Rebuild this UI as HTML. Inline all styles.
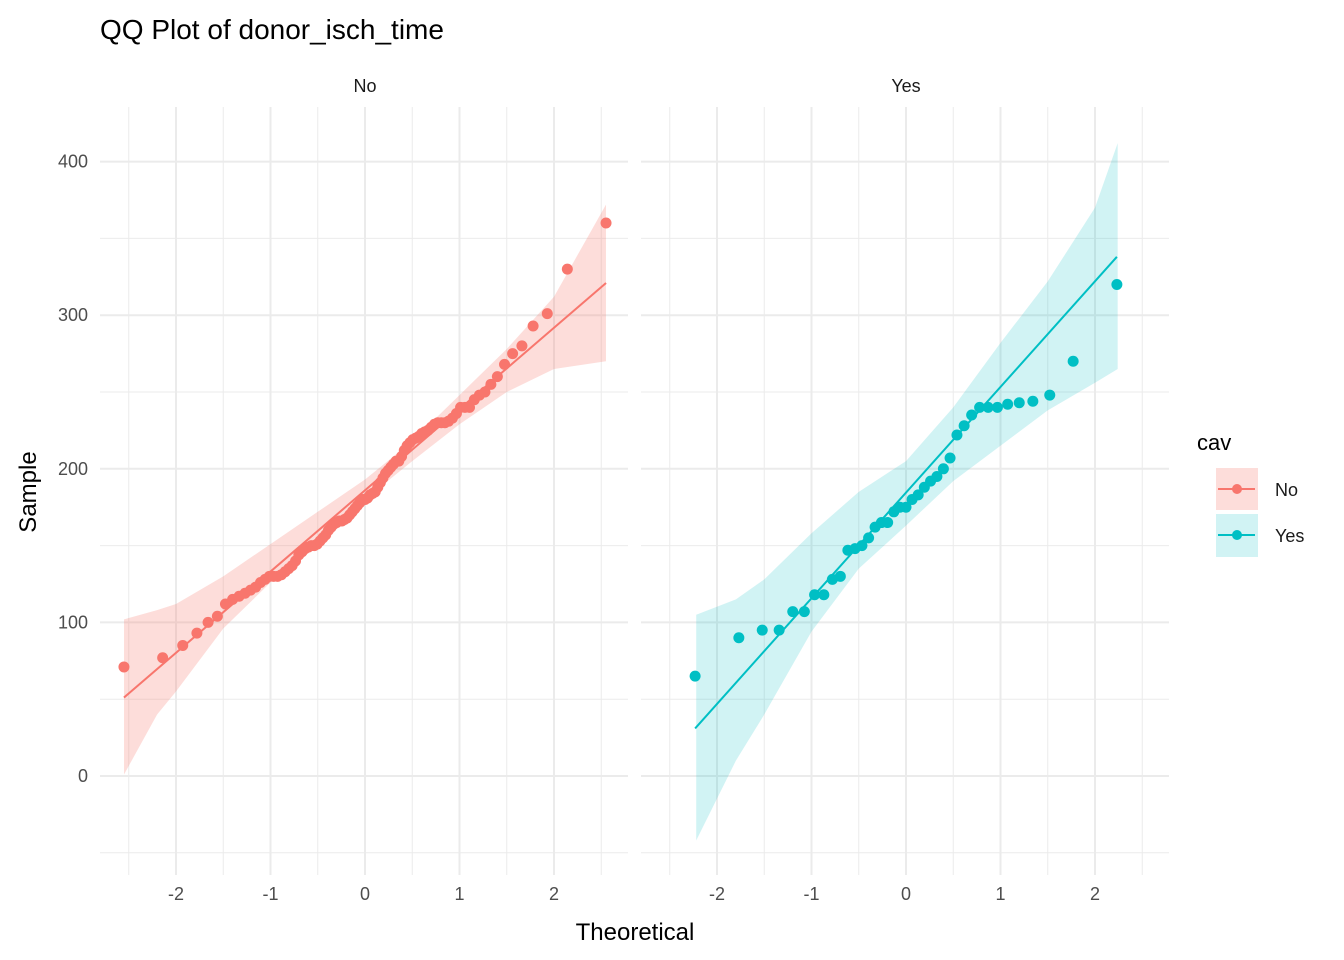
<!DOCTYPE html>
<html><head><meta charset="utf-8"><style>
html,body{margin:0;padding:0;background:#fff;}
svg{display:block;font-family:"Liberation Sans",Arial,sans-serif;}
</style></head><body>
<svg id="c" width="1344" height="960" viewBox="0 0 1344 960" xmlns="http://www.w3.org/2000/svg">
<text x="100" y="39" font-size="28" fill="#000">QQ Plot of donor_isch_time</text>
<text x="365" y="92" font-size="18" fill="#1a1a1a" text-anchor="middle">No</text>
<text x="906" y="92" font-size="18" fill="#1a1a1a" text-anchor="middle">Yes</text>
<text x="635" y="940" font-size="24" fill="#000" text-anchor="middle">Theoretical</text>
<text x="36" y="492" font-size="24" fill="#000" text-anchor="middle" transform="rotate(-90 36 492)">Sample</text>
<g>
<text x="1197" y="450" font-size="22" fill="#000">cav</text>
<g>
<rect x="1216" y="468" width="42" height="42" fill="#F8766D" fill-opacity="0.25"/>
<line x1="1218" y1="489" x2="1255" y2="489" stroke="#F8766D" stroke-width="2"/>
<circle cx="1237" cy="489" r="5" fill="#F8766D"/>
<text x="1275" y="496" font-size="18" fill="#1a1a1a">No</text></g>
<g>
<rect x="1216" y="514" width="42" height="43" fill="#00BFC4" fill-opacity="0.18"/>
<line x1="1218" y1="535" x2="1255" y2="535" stroke="#00BFC4" stroke-width="2"/>
<circle cx="1237" cy="535" r="5" fill="#00BFC4"/>
<text x="1275" y="542" font-size="18" fill="#1a1a1a">Yes</text></g>
</g>
</svg>
<script>
const yTicks=[0,100,200,300,400];
const yMinor=[-50,50,150,250,350];
const xTicks=[-2,-1,0,1,2];
const xMinor=[-2.5,-1.5,-0.5,0.5,1.5,2.5];
const noValues=[71,77,85,93,100,104,112,115,117,119,121,123,126,128,130,130,130,131,133,135,137,140,144,146,148,149,150,150,151,153,155,157,160,162,164,165,166,166,167,168,170,172,174,176,178,180,180,181,183,184,185,188,191,194,197,199,201,203,205,205,208,212,215,217,219,220,221,223,224,225,227,229,230,230,230,231,233,236,240,240,240,245,248,250,255,260,268,275,280,293,301,330,360];
const yesValues=[65,90,95,95,107,107,118,118,128,130,147,148,150,155,162,165,165,172,175,175,180,183,188,192,195,200,207,222,228,235,240,240,240,242,243,244,248,270,320];
const noLine=[186,52.9];
const yesLine=[184.5,68.8];
const noBandX=[-2.55,-2.2,-2,-1.5,-1,-0.5,0,0.5,1,1.5,2,2.55];
const noBandLo=[1,40,55,96,126,155,180,205,229,250,265,270];
const noBandHi=[102,108,112,130,151,172,193,218,248,278,312,372];
const yesBandX=[-2.22,-1.8,-1.5,-1,-0.5,0,0.5,1,1.5,2,2.24];
const yesBandLo=[-42,10,40,94,135,163,192,215,238,256,265];
const yesBandHi=[105,115,128,158,185,205,240,282,322,370,412];
const NS="http://www.w3.org/2000/svg",svg=document.getElementById('c');
const yS=v=>776-v*1.536;
function qnorm(p){const a=[-39.6968302866538,220.946098424521,-275.928510446969,138.357751867269,-30.6647980661472,2.50662827745924],b=[-54.4760987982241,161.585836858041,-155.698979859887,66.8013118877197,-13.2806815528857],c=[-0.00778489400243029,-0.322396458041136,-2.40075827716184,-2.54973253934373,4.37466414146497,2.93816398269878],d=[0.00778469570904146,0.32246712907004,2.445134137143,3.75440866190742];let q,r;if(p<0.02425){q=Math.sqrt(-2*Math.log(p));return(((((c[0]*q+c[1])*q+c[2])*q+c[3])*q+c[4])*q+c[5])/((((d[0]*q+d[1])*q+d[2])*q+d[3])*q+1);}if(p>1-0.02425){return -qnorm(1-p);}q=p-0.5;r=q*q;return(((((a[0]*r+a[1])*r+a[2])*r+a[3])*r+a[4])*r+a[5])*q/(((((b[0]*r+b[1])*r+b[2])*r+b[3])*r+b[4])*r+1);}
function el(t,a,p){const e=document.createElementNS(NS,t);for(const k in a)e.setAttribute(k,a[k]);(p||svg).appendChild(e);return e;}
function panel(name,x0,x1,xc,vals,line,bx,blo,bhi,col,op,showY){
 const xS=v=>xc+v*94.5;
 const g=el('g',{});
 
 
 xMinor.forEach(v=>{const l=el('line',{x1:xS(v),x2:xS(v),y1:107,y2:875,stroke:'#ebebeb','stroke-width':1},g);});
 yMinor.forEach(v=>{const l=el('line',{x1:x0,x2:x1,y1:yS(v),y2:yS(v),stroke:'#ebebeb','stroke-width':1},g);});
 xTicks.forEach(v=>{const l=el('line',{x1:xS(v),x2:xS(v),y1:107,y2:875,stroke:'#ebebeb','stroke-width':2},g);
  const t=el('text',{x:xS(v),y:900,'font-size':18,fill:'#4d4d4d','text-anchor':'middle'});t.textContent=v;});
 yTicks.forEach(v=>{const l=el('line',{x1:x0,x2:x1,y1:yS(v),y2:yS(v),stroke:'#ebebeb','stroke-width':2},g);
  if(showY){const t=el('text',{x:88,y:yS(v)+6,'font-size':18,fill:'#4d4d4d','text-anchor':'end'});t.textContent=v;}});
 let d='M'+bx.map((x,i)=>xS(x)+','+yS(bhi[i])).join('L');
 for(let i=bx.length-1;i>=0;i--)d+='L'+xS(bx[i])+','+yS(blo[i]);
 const band=el('path',{d:d+'Z',fill:col,'fill-opacity':op},g);
 
 
 const n=vals.length,qa=qnorm(0.5/n),qb=-qa;
 const ln=el('line',{x1:xS(qa),y1:yS(line[0]+line[1]*qa),x2:xS(qb),y2:yS(line[0]+line[1]*qb),stroke:col,'stroke-width':2},g);
 
 
 vals.forEach((v,i)=>{const q=qnorm((i+0.5)/n);const c=el('circle',{cx:xS(q),cy:yS(v),r:5.5,fill:col},g);
  
  });
}
panel('no',100,628,365,noValues,noLine,noBandX,noBandLo,noBandHi,'#F8766D',0.25,true);
panel('yes',641,1169,906,yesValues,yesLine,yesBandX,yesBandLo,yesBandHi,'#00BFC4',0.18,false);
</script>
</body></html>
